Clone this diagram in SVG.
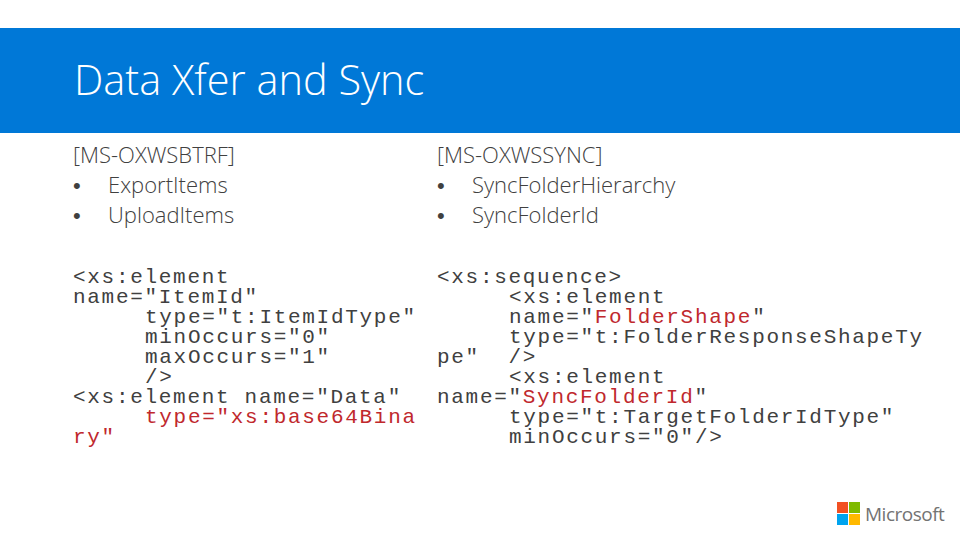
<svg xmlns="http://www.w3.org/2000/svg" width="960" height="540" viewBox="0 0 960 540">
<style>
.b{font-family:"Open Sans","Liberation Sans",sans-serif;font-weight:300;font-size:22px;fill:#404040}
.d{font-family:"Liberation Sans",sans-serif;font-size:22px;fill:#404040}
.c{font-family:"Courier New","Liberation Mono",monospace;font-size:21px;letter-spacing:1.7px;fill:#404040}
.r{fill:#c0282d}
</style>
<rect width="960" height="540" fill="#fff"/>
<g id="header"><rect x="0" y="28" width="960" height="105" fill="#0078d7"/>
<text x="74" y="95" font-family="Open Sans,Liberation Sans,sans-serif" font-weight="300" font-size="41.5" fill="#fff">Data Xfer and Sync</text></g>
<g id="left">
<text class="b" x="73" y="163">[MS-OXWSBTRF]</text>
<text class="d" x="73" y="193">•</text><text class="b" x="108" y="193">ExportItems</text>
<text class="d" x="73" y="223">•</text><text class="b" x="108" y="223">UploadItems</text>
<text class="c" x="73" y="283">&lt;xs:element</text>
<text class="c" x="73" y="303">name="ItemId"</text>
<text class="c" x="145" y="323">type="t:ItemIdType"</text>
<text class="c" x="145" y="343">minOccurs="0"</text>
<text class="c" x="145" y="363">maxOccurs="1"</text>
<text class="c" x="145" y="383">/&gt;</text>
<text class="c" x="73" y="403">&lt;xs:element name="Data"</text>
<text class="c r" x="145" y="423">type="xs:base64Bina</text>
<text class="c r" x="73" y="443">ry"</text>
</g>
<g id="right">
<text class="b" x="437" y="163">[MS-OXWSSYNC]</text>
<text class="d" x="437" y="193">•</text><text class="b" x="472" y="193">SyncFolderHierarchy</text>
<text class="d" x="437" y="223">•</text><text class="b" x="472" y="223">SyncFolderId</text>
<text class="c" x="437" y="283">&lt;xs:sequence&gt;</text>
<text class="c" x="509" y="303">&lt;xs:element</text>
<text class="c" x="509" y="323">name="<tspan class="r">FolderShape</tspan>"</text>
<text class="c" x="509" y="343">type="t:FolderResponseShapeTy</text>
<text class="c" x="437" y="363" xml:space="preserve">pe"  /&gt;</text>
<text class="c" x="509" y="383">&lt;xs:element</text>
<text class="c" x="437" y="403">name="<tspan class="r">SyncFolderId</tspan>"</text>
<text class="c" x="509" y="423">type="t:TargetFolderIdType"</text>
<text class="c" x="509" y="443">minOccurs="0"/&gt;</text>
</g>
<g id="logo">
<rect x="837" y="502" width="11" height="11" fill="#f25022"/>
<rect x="849" y="502" width="11" height="11" fill="#7fba00"/>
<rect x="837" y="514" width="11" height="11" fill="#00a4ef"/>
<rect x="849" y="514" width="11" height="11" fill="#ffb900"/>
<text x="865" y="521" font-family="Open Sans,Liberation Sans,sans-serif" font-size="19" fill="#737373" letter-spacing="-0.5">Microsoft</text>
</g>
</svg>
